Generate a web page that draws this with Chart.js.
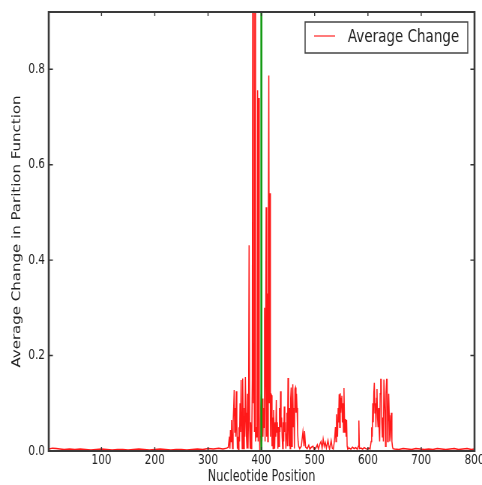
<!DOCTYPE html>
<html>
<head>
<meta charset="utf-8">
<script src="https://cdn.jsdelivr.net/npm/chart.js@4/dist/chart.umd.min.js"></script>
<style>
  body { margin: 0; background: #fff; overflow: hidden; }
  #wrap { width: 482px; height: 485px; overflow: hidden; }
  /* the original figure is squeezed horizontally, so draw wide and squash */
  #c { width: 643px; height: 485px; transform: scale(0.7496, 1); transform-origin: 0 0; filter: blur(0.35px); }
</style>
</head>
<body>
<div id="wrap"><canvas id="c" width="643" height="485"></canvas></div>
<script>
// nucleotide positions and average change
const positions = [
    1, 8, 15, 22, 30, 40, 50, 60, 70, 80,
    90, 100, 110, 120, 130, 140, 150, 160, 170, 180,
    190, 200, 210, 220, 230, 240, 250, 260, 270, 280,
    290, 300, 310, 320, 328, 335, 338, 340, 341, 342,
    343, 344, 345, 346, 347, 348, 349, 350, 351, 352,
    353, 354, 355, 356, 357, 358, 359, 360, 361, 362,
    363, 364, 365, 366, 367, 368, 369, 370, 371, 372,
    373, 374, 375, 376, 377, 378, 379, 380, 381, 382,
    383, 384, 385, 386, 387, 388, 389, 390, 391, 392,
    393, 394, 395, 396, 397, 398, 399, 400, 401, 402,
    403, 404, 405, 406, 407, 408, 409, 410, 411, 412,
    413, 414, 415, 416, 417, 418, 419, 420, 421, 422,
    423, 424, 425, 426, 427, 428, 429, 430, 431, 432,
    433, 434, 435, 436, 437, 438, 439, 440, 441, 442,
    443, 444, 445, 446, 447, 448, 449, 450, 451, 452,
    453, 454, 455, 456, 457, 458, 459, 460, 461, 462,
    463, 464, 465, 466, 467, 468, 469, 470, 472, 475,
    478, 480, 481, 483, 486, 489, 491, 494, 497, 499,
    502, 505, 507, 510, 512, 514, 516, 518, 520, 522,
    525, 527, 528, 531, 533, 535, 537, 539, 540, 541,
    542, 543, 544, 545, 546, 547, 548, 549, 550, 551,
    552, 553, 554, 555, 556, 557, 558, 559, 560, 561,
    562, 565, 568, 571, 574, 577, 580, 582, 583, 584,
    587, 590, 593, 596, 599, 602, 604, 606, 607, 608,
    609, 610, 611, 612, 613, 614, 615, 616, 617, 618,
    619, 620, 621, 622, 623, 624, 625, 626, 627, 628,
    629, 630, 631, 632, 633, 634, 635, 636, 637, 638,
    639, 640, 641, 642, 643, 644, 645, 646, 647, 650,
    658, 666, 674, 682, 690, 698, 706, 714, 722, 730,
    738, 746, 754, 762, 770, 778, 786, 794, 800
];
const avgChange = [
    .004, .006, .005, .004, .003, .004, .003, .004, .003, .002,
    .003, .004, .003, .002, .003, .003, .002, .003, .004, .003,
    .002, .003, .004, .003, .002, .003, .003, .002, .003, .004,
    .003, .005, .004, .006, .004, .006, .008, .03, .005, .044,
    .02, .065, .03, .005, .06, .09, .128, .04, .09, .03,
    .125, .06, .005, .03, 0, .05, .02, .1, .04, .149,
    .07, .005, .152, .06, .005, .09, .03, .155, .08, .03,
    .005, .12, .005, .08, .431, .05, .005, .06, .005, .02,
    .15, 1.2, .1, .2, .04, 1.3, .02, .05, .03, .1,
    .756, .02, .74, .08, 0, .03, .09, .12, .02, .11,
    .03, .09, .05, .3, .02, .2, .511, .03, .33, .02,
    .45, .787, .1, .54, .03, .12, .117, .01, .07, .005,
    .086, .05, .005, .06, .03, .107, .04, .06, .005, .05,
    .01, .09, .04, .125, .05, .07, .03, .005, .06, .02,
    .093, .04, .06, .005, .035, .08, .01, .153, .06, .01,
    .09, .005, .11, .133, .01, .07, .14, .05, .09, .005,
    .13, .133, .08, .12, .09, .04, .02, .01, .005, .01,
    .04, .01, .042, .008, .005, .012, .004, .008, .01, .003,
    .006, .013, .004, .015, .02, .006, .025, .01, .018, .006,
    .022, .008, .004, .022, .006, .004, .02, .05, .02, .077,
    .04, .03, .09, .06, .119, .05, .121, .08, .11, .116,
    .06, .1, .04, .132, .07, .04, .067, .03, .065, .01,
    .005, .006, .004, .008, .005, .007, .004, .01, .064, .005,
    .006, .004, .007, .005, .004, .006, .004, .02, .05, .03,
    .1, .06, .12, .143, .08, .1, .05, .11, .13, .07,
    .05, .09, .04, .02, .12, .15, .15, .06, .03, .07,
    .02, .15, .15, .08, .01, .12, .15, .15, .02, .06,
    .12, .075, .02, .03, .06, .08, .02, .01, .005, .004,
    .003, .005, .004, .003, .005, .004, .003, .004, .003, .005,
    .004, .003, .004, .005, .003, .004, .005, .003, .004
];
const markerPos = 400;
const xTicks = [100, 200, 300, 400, 500, 600, 700, 800];
const yTicks = [0, 0.2, 0.4, 0.6, 0.8];
const legendLabel = "Average Change";

const font = "DejaVu Sans";
const textColor = "#222";

// matplotlib style box: frame, inward ticks, legend inside the axes
const framePlugin = {
    id: "frame",
    afterDraw(chart) {
        const { ctx, chartArea: a, scales: { x, y } } = chart;
        ctx.save();
        ctx.strokeStyle = "#333";
        ctx.lineWidth = 1.4;
        ctx.beginPath();
        xTicks.forEach(v => {
            const px = x.getPixelForValue(v);
            ctx.moveTo(px, a.bottom); ctx.lineTo(px, a.bottom - 4);
            ctx.moveTo(px, a.top); ctx.lineTo(px, a.top + 4);
        });
        yTicks.forEach(v => {
            const py = y.getPixelForValue(v);
            ctx.moveTo(a.left, py); ctx.lineTo(a.left + 5.5, py);
            ctx.moveTo(a.right, py); ctx.lineTo(a.right - 5.5, py);
        });
        ctx.stroke();

        ctx.strokeStyle = "#3a3a3a";
        ctx.lineWidth = 2;
        ctx.beginPath();
        ctx.moveTo(a.left, a.top); ctx.lineTo(a.right, a.top);
        ctx.moveTo(a.left, a.bottom); ctx.lineTo(a.right, a.bottom);
        ctx.stroke();
        ctx.lineWidth = 2.6;
        ctx.beginPath();
        ctx.moveTo(a.left, a.top - 1); ctx.lineTo(a.left, a.bottom + 1);
        ctx.moveTo(a.right, a.top - 1); ctx.lineTo(a.right, a.bottom + 1);
        ctx.stroke();

        // legend
        ctx.fillStyle = "#fff";
        ctx.fillRect(407, 22, 217, 31);
        ctx.strokeStyle = "#444";
        ctx.lineWidth = 1.5;
        ctx.strokeRect(407, 22, 217, 31);
        ctx.strokeStyle = "rgba(255,0,0,0.8)";
        ctx.lineWidth = 1.3;
        ctx.beginPath();
        ctx.moveTo(419, 36); ctx.lineTo(447, 36);
        ctx.stroke();
        ctx.fillStyle = textColor;
        ctx.font = "18px '" + font + "'";
        ctx.textBaseline = "middle";
        ctx.fillText(legendLabel, 464, 37);
        ctx.restore();
    }
};

const ctx = document.getElementById("c").getContext("2d");
new Chart(ctx, {
    type: "line",
    data: {
        datasets: [
            {
                label: legendLabel,
                data: positions.map((p, i) => ({ x: p, y: avgChange[i] })),
                borderColor: "rgba(255,0,0,0.9)",
                borderWidth: 1.5,
                pointRadius: 0,
                tension: 0,
                order: 1,
            },
            {
                label: "marker",
                data: [{ x: markerPos, y: 0 }, { x: markerPos, y: 0.92 }],
                borderColor: "#119a11",
                borderWidth: 2.6,
                pointRadius: 0,
                order: 0,
            },
        ],
    },
    options: {
        responsive: false,
        devicePixelRatio: 1,
        animation: false,
        layout: { padding: { left: 0, top: 12, right: 10, bottom: 0 } },
        plugins: { legend: { display: false }, tooltip: { enabled: false } },
        scales: {
            x: {
                type: "linear",
                min: 1,
                max: 800,
                grid: { display: false, drawTicks: false },
                border: { display: false },
                afterBuildTicks: s => { s.ticks = xTicks.map(v => ({ value: v })); },
                afterFit: s => { s.height = 34; s.paddingLeft = 0; s.paddingRight = 0; },
                ticks: {
                    color: textColor,
                    font: { family: font, size: 14 },
                    padding: 1,
                    maxRotation: 0,
                    autoSkip: false,
                },
                title: {
                    display: true,
                    text: "Nucleotide Position",
                    color: textColor,
                    font: { family: font, size: 15, lineHeight: 1 },
                    padding: { top: 0, bottom: 0 },
                },
            },
            y: {
                min: 0,
                max: 0.92,
                grid: { display: false, drawTicks: false },
                border: { display: false },
                afterBuildTicks: s => { s.ticks = yTicks.map(v => ({ value: v })); },
                afterFit: s => { s.width = 65; s.paddingTop = 0; s.paddingBottom = 0; },
                ticks: {
                    color: textColor,
                    font: { family: font, size: 14 },
                    padding: 5,
                    callback: v => v.toFixed(1),
                },
                title: {
                    display: true,
                    text: "Average Change in Parition Function",
                    color: textColor,
                    font: { family: font, size: 15, lineHeight: 1 },
                    padding: { top: 16, bottom: 0 },
                },
            },
        },
    },
    plugins: [framePlugin],
});
</script>
</body>
</html>
